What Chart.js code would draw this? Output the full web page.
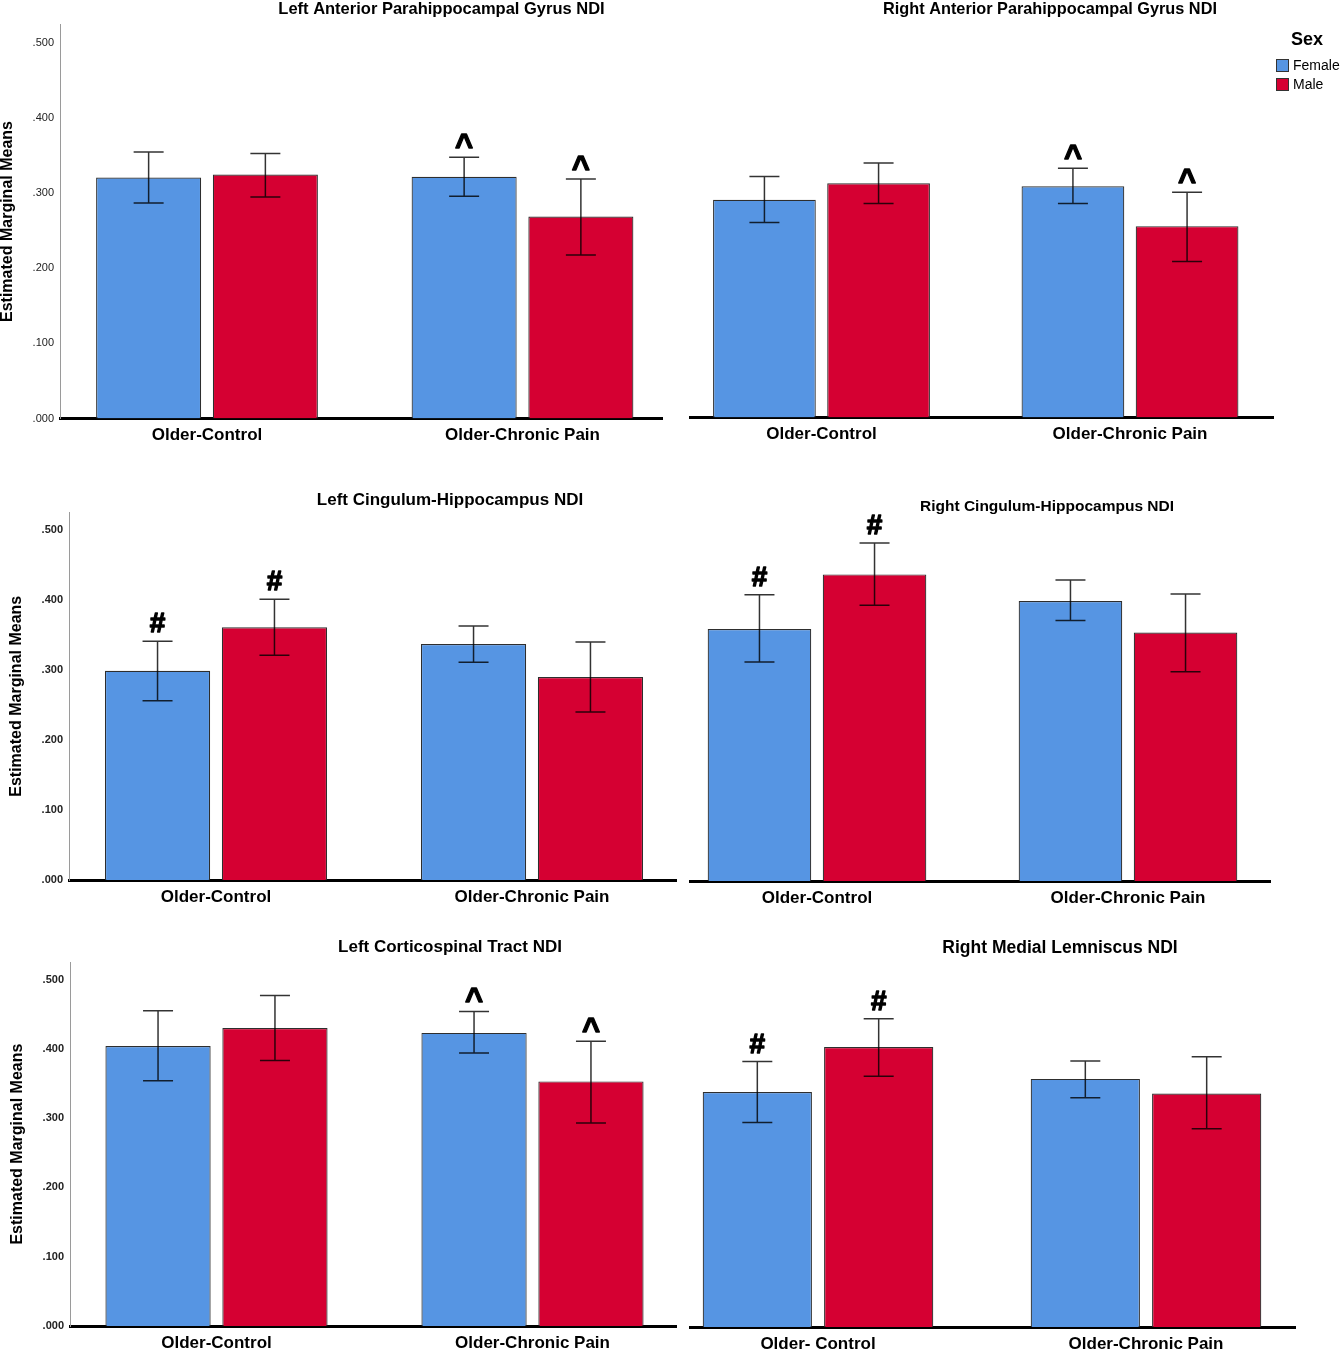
<!DOCTYPE html>
<html>
<head>
<meta charset="utf-8">
<title>Estimated Marginal Means NDI</title>
<script src="https://cdn.jsdelivr.net/npm/chart.js@4.4.0/dist/chart.umd.min.js"></script>
<style>
  body { margin: 0; background: #fff; }
  #wrap { position: relative; width: 1340px; height: 1350px; }
  #wrap canvas { position: absolute; }
</style>
</head>
<body>
<div id="wrap"></div>
<script>
// ---- data ----
const groups = ['Older-Control', 'Older-Chronic Pain'];
const groupsRML = ['Older- Control', 'Older-Chronic Pain'];
const sexes = ['Female', 'Male'];
const yTicks = [0, 0.1, 0.2, 0.3, 0.4, 0.5];

// Left Anterior Parahippocampal Gyrus NDI
const lapgFemale = [0.321, 0.322];
const lapgFemaleCI = [[0.287, 0.355], [0.296, 0.348]];
const lapgMale = [0.325, 0.269];
const lapgMaleCI = [[0.295, 0.353], [0.218, 0.319]];
const lapgMarks = ['', '^'];

// Right Anterior Parahippocampal Gyrus NDI
const rapgFemale = [0.290, 0.308];
const rapgFemaleCI = [[0.260, 0.321], [0.285, 0.332]];
const rapgMale = [0.312, 0.255];
const rapgMaleCI = [[0.285, 0.339], [0.208, 0.300]];
const rapgMarks = ['', '^'];

// Left Cingulum-Hippocampus NDI
const lchFemale = [0.299, 0.337];
const lchFemaleCI = [[0.256, 0.341], [0.311, 0.363]];
const lchMale = [0.361, 0.290];
const lchMaleCI = [[0.321, 0.401], [0.240, 0.340]];
const lchMarks = ['#', ''];

// Right Cingulum-Hippocampus NDI
const rchFemale = [0.360, 0.400];
const rchFemaleCI = [[0.313, 0.409], [0.372, 0.430]];
const rchMale = [0.438, 0.355];
const rchMaleCI = [[0.394, 0.483], [0.299, 0.410]];
const rchMarks = ['#', ''];

// Left Corticospinal Tract NDI
const lctFemale = [0.404, 0.423];
const lctFemaleCI = [[0.354, 0.455], [0.394, 0.454]];
const lctMale = [0.430, 0.353];
const lctMaleCI = [[0.383, 0.477], [0.293, 0.411]];
const lctMarks = ['', '^'];

// Right Medial Lemniscus NDI
const rmlFemale = [0.339, 0.358];
const rmlFemaleCI = [[0.295, 0.383], [0.331, 0.384]];
const rmlMale = [0.404, 0.337];
const rmlMaleCI = [[0.362, 0.445], [0.286, 0.390]];
const rmlMarks = ['#', ''];

// ---- look ----
const FONT = '"Liberation Sans", Arial, sans-serif';
const BLUE = '#5695e3';
const RED = '#d50032';
Chart.defaults.font.family = FONT;

// panel layout: canvas box and plot area in page pixels, group centres
const panels = [
  { box: [0, 0, 680, 455], area: [60, 24.5, 662, 418.5], centers: [207, 522.5],
    title: 'Left Anterior Parahippocampal Gyrus NDI', titleAt: [441.5, 9.5], titleSize: 16.5,
    yAxis: true, yTitlePad: 0, tickBold: false, labels: groups,
    female: lapgFemale, femaleCI: lapgFemaleCI, male: lapgMale, maleCI: lapgMaleCI, marks: lapgMarks },
  { box: [680, 0, 660, 455], area: [690, 23.5, 1273, 417.5], centers: [821.5, 1130],
    title: 'Right Anterior Parahippocampal Gyrus NDI', titleAt: [1050, 9.5], titleSize: 16.3,
    yAxis: false, labels: groups, legend: true,
    female: rapgFemale, femaleCI: rapgFemaleCI, male: rapgMale, maleCI: rapgMaleCI, marks: rapgMarks },
  { box: [0, 455, 680, 455], area: [69, 512.5, 676, 880], centers: [216, 532],
    title: 'Left Cingulum-Hippocampus NDI', titleAt: [450, 500], titleSize: 17,
    yAxis: true, yTitlePad: 9, tickBold: true, labels: groups,
    female: lchFemale, femaleCI: lchFemaleCI, male: lchMale, maleCI: lchMaleCI, marks: lchMarks },
  { box: [680, 455, 660, 455], area: [690, 513.5, 1270, 881], centers: [817, 1128],
    title: 'Right Cingulum-Hippocampus NDI', titleAt: [1047, 507], titleSize: 15.5,
    yAxis: false, labels: groups,
    female: rchFemale, femaleCI: rchFemaleCI, male: rchMale, maleCI: rchMaleCI, marks: rchMarks },
  { box: [0, 910, 680, 440], area: [70, 962.2, 676, 1326], centers: [216.5, 532.5],
    title: 'Left Corticospinal Tract NDI', titleAt: [450, 947], titleSize: 17,
    yAxis: true, yTitlePad: 10, tickBold: true, labels: groups,
    female: lctFemale, femaleCI: lctFemaleCI, male: lctMale, maleCI: lctMaleCI, marks: lctMarks },
  { box: [680, 910, 660, 440], area: [690, 963.2, 1295, 1327], centers: [818, 1146],
    title: 'Right Medial Lemniscus NDI', titleAt: [1060, 948], titleSize: 17.5,
    yAxis: false, labels: groupsRML,
    female: rmlFemale, femaleCI: rmlFemaleCI, male: rmlMale, maleCI: rmlMaleCI, marks: rmlMarks }
];

// error bars with caps, plus the ^ / # markers above them
const errorBars = {
  id: 'errorBars',
  afterDatasetsDraw(chart) {
    const ctx = chart.ctx;
    const y = chart.scales.y;
    chart.data.datasets.forEach((ds, i) => {
      chart.getDatasetMeta(i).data.forEach((bar, j) => {
        const yLo = y.getPixelForValue(ds.ci[j][0]);
        const yHi = y.getPixelForValue(ds.ci[j][1]);
        ctx.save();
        ctx.strokeStyle = 'rgba(0,0,0,0.8)';
        ctx.lineWidth = 1.5;
        ctx.beginPath();
        ctx.moveTo(bar.x, yLo); ctx.lineTo(bar.x, yHi);
        ctx.moveTo(bar.x - 15, yLo); ctx.lineTo(bar.x + 15, yLo);
        ctx.moveTo(bar.x - 15, yHi); ctx.lineTo(bar.x + 15, yHi);
        ctx.stroke();
        const mark = ds.marks[j];
        if (mark) {
          ctx.font = `bold ${mark === '^' ? 31 : 28}px ${FONT}`;
          ctx.fillStyle = '#000';
          ctx.strokeStyle = '#000';
          ctx.lineWidth = 1.3;
          ctx.lineJoin = 'round';
          ctx.textAlign = 'center';
          ctx.textBaseline = 'alphabetic';
          const m = ctx.measureText(mark);
          const ty = yHi - 9 - m.actualBoundingBoxDescent;
          ctx.fillText(mark, bar.x, ty);
          ctx.strokeText(mark, bar.x, ty);
        }
        ctx.restore();
      });
    });
  }
};

// panel title and the Sex legend
const panelText = {
  id: 'panelText',
  afterDraw(chart, args, opts) {
    const ctx = chart.ctx;
    ctx.save();
    ctx.fillStyle = '#000';
    ctx.textAlign = 'center';
    ctx.textBaseline = 'middle';
    ctx.font = `bold ${opts.size}px ${FONT}`;
    ctx.fillText(opts.text, opts.x, opts.y);
    if (opts.legend) {
      ctx.font = `bold 18px ${FONT}`;
      ctx.fillText('Sex', 627, 40);
      chart.data.datasets.forEach((ds, i) => {
        ctx.fillStyle = ds.backgroundColor;
        ctx.fillRect(596, 59 + 19 * i, 13, 13);
        ctx.strokeStyle = '#333';
        ctx.lineWidth = 1;
        ctx.strokeRect(596.5, 59.5 + 19 * i, 12, 12);
        ctx.fillStyle = '#000';
        ctx.textAlign = 'left';
        ctx.font = `14px ${FONT}`;
        ctx.fillText(ds.label, 613, 66.5 + 19 * i);
      });
    }
    ctx.restore();
  }
};

const wrap = document.getElementById('wrap');

panels.forEach(p => {
  const [bx, by, bw, bh] = p.box;
  const [al, at, ar, ab] = p.area;
  const canvas = document.createElement('canvas');
  canvas.width = bw;
  canvas.height = bh;
  canvas.style.left = bx + 'px';
  canvas.style.top = by + 'px';
  wrap.appendChild(canvas);
  const gap = p.centers[1] - p.centers[0];

  new Chart(canvas, {
    type: 'bar',
    data: {
      datasets: [
        { label: sexes[0], data: p.female.map((v, i) => ({ x: i, y: v })), ci: p.femaleCI, marks: p.marks,
          backgroundColor: BLUE, borderColor: '#2e2e2e', borderWidth: 1.2 },
        { label: sexes[1], data: p.male.map((v, i) => ({ x: i, y: v })), ci: p.maleCI, marks: p.marks,
          backgroundColor: RED, borderColor: '#2e2e2e', borderWidth: 1.2 }
      ]
    },
    options: {
      responsive: false,
      animation: false,
      layout: { padding: { top: at - by, right: bx + bw - ar, left: 0, bottom: 0 } },
      datasets: { bar: { barPercentage: 0.9, categoryPercentage: 0.74 } },
      plugins: {
        legend: { display: false },
        tooltip: { enabled: false },
        panelText: { text: p.title, x: p.titleAt[0] - bx, y: p.titleAt[1] - by, size: p.titleSize, legend: !!p.legend }
      },
      scales: {
        x: {
          type: 'linear',
          offset: false,
          bounds: 'data',
          min: (al - p.centers[0]) / gap,
          max: 1 + (ar - p.centers[1]) / gap,
          afterBuildTicks: s => { s.ticks = p.labels.map((_, i) => ({ value: i })); },
          afterFit: s => { s.height = by + bh - ab; },
          grid: { display: false, drawTicks: false, offset: false },
          border: { display: true, color: '#000', width: 3 },
          ticks: {
            padding: 7, color: '#000', autoSkip: false, maxRotation: 0,
            font: { size: 17, weight: 'bold' },
            callback: v => p.labels[v]
          }
        },
        y: {
          min: 0,
          max: 0.525,
          afterBuildTicks: s => { s.ticks = yTicks.map(v => ({ value: v })); },
          afterFit: s => { s.width = al - bx; },
          grid: { display: false, drawTicks: false },
          border: { display: p.yAxis, color: '#9a9a9a', width: 1 },
          ticks: {
            display: p.yAxis, padding: 6, color: '#222',
            font: { size: 11, weight: p.tickBold ? 'bold' : 'normal' },
            callback: v => '.' + String(Math.round(v * 1000)).padStart(3, '0')
          },
          title: {
            display: p.yAxis, text: 'Estimated Marginal Means', color: '#000',
            font: { size: 16, weight: 'bold', lineHeight: 1 },
            padding: { top: p.yTitlePad || 0, bottom: 0 }
          }
        }
      }
    },
    plugins: [errorBars, panelText]
  });
});
</script>
</body>
</html>
